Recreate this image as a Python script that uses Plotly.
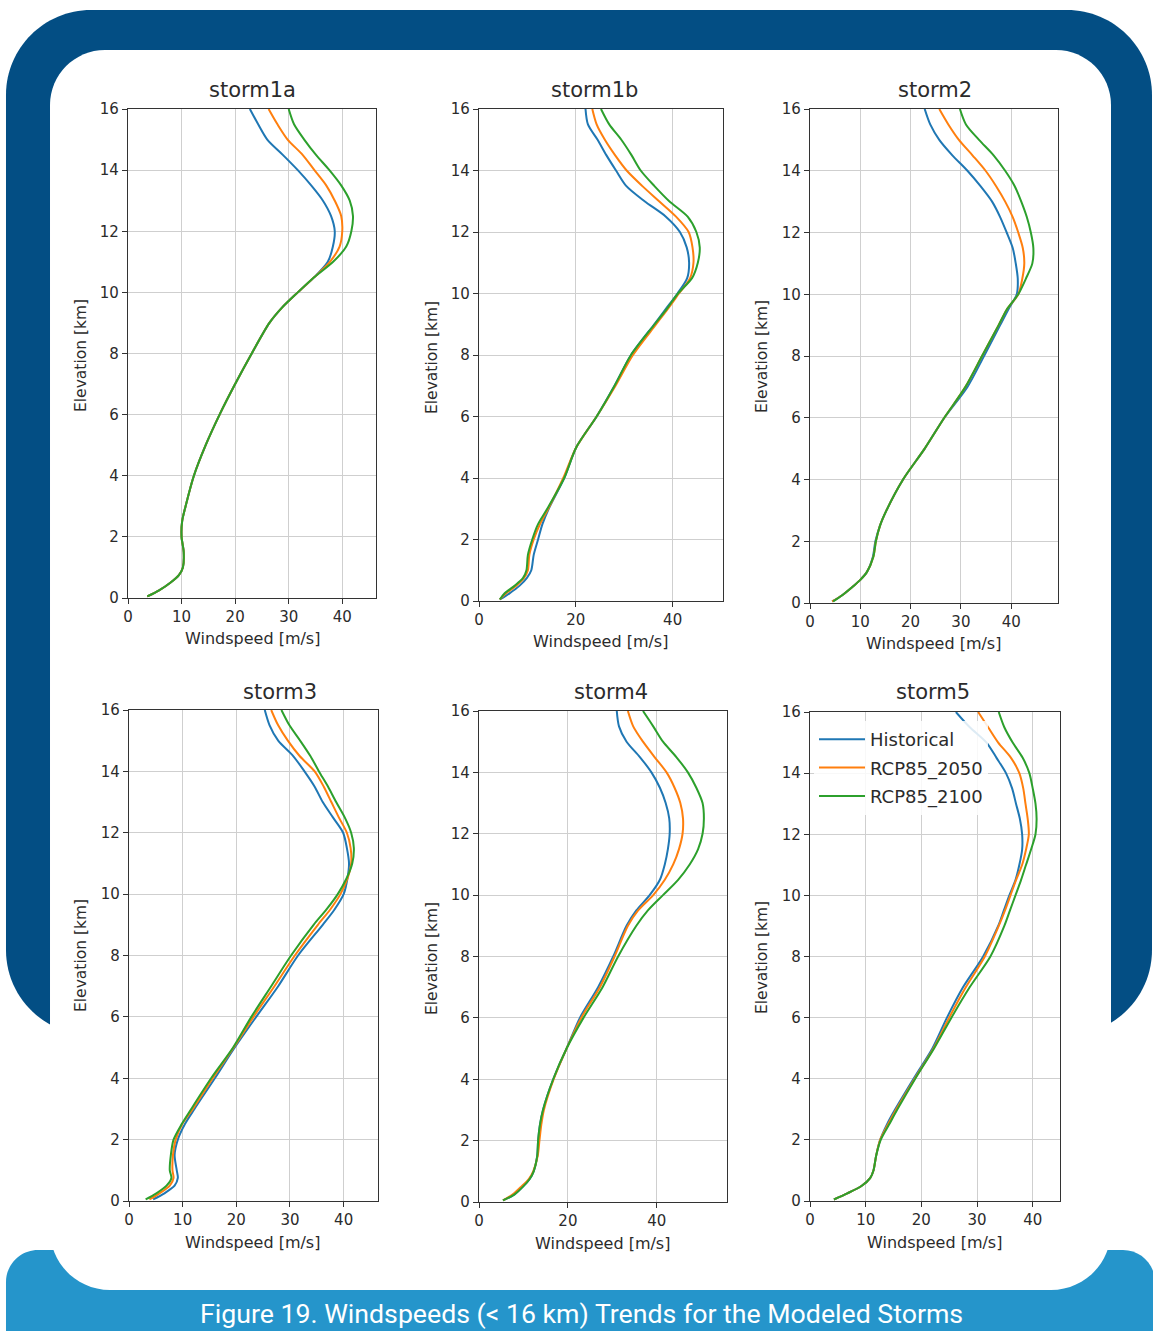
import plotly.graph_objects as go
from plotly.subplots import make_subplots

W, H = 1153, 1331

# ---- data -------------------------------------------------------------
ELEVATION_KM = [0.05, 0.25, 0.5, 0.75, 1.0, 1.5, 2.0, 2.5, 3.0, 4.0, 5.0, 6.0, 7.0, 8.0,
                9.0, 9.5, 10.0, 10.5, 11.0, 11.5, 12.0, 12.5, 13.0, 13.5, 14.0, 14.5,
                15.0, 15.5, 16.0]

storm1a_historical = [3.6, 5.8, 7.9, 9.5, 10.25, 10.4, 10.0, 10.1, 10.75, 12.3, 14.5, 17.1, 20.0, 23.1,
                      26.4, 28.75, 31.7, 34.8, 37.3, 38.25, 38.6, 37.9, 36.4, 34.2, 31.7, 28.9,
                      26.0, 24.3, 22.75]
storm1a_rcp85_2050 = [3.6, 5.8, 7.9, 9.5, 10.25, 10.4, 10.0, 10.1, 10.75, 12.3, 14.5, 17.1, 20.0, 23.1,
                      26.4, 28.75, 31.7, 34.8, 37.7, 39.5, 40.0, 39.8, 38.6, 37.0, 34.8, 32.6,
                      29.8, 27.9, 26.25]
storm1a_rcp85_2100 = [3.6, 5.8, 7.9, 9.5, 10.25, 10.4, 10.0, 10.1, 10.75, 12.3, 14.5, 17.1, 20.0, 23.1,
                      26.4, 28.75, 31.7, 34.8, 38.3, 40.75, 41.7, 42.0, 41.4, 39.8, 37.6, 35.1,
                      32.9, 31.0, 30.0]

storm1b_historical = [4.3, 6.3, 8.4, 9.9, 10.8, 11.3, 12.2, 13.1, 14.4, 17.6, 20.1, 24.3, 28.0, 31.4,
                      36.2, 38.6, 41.0, 43.0, 43.4, 42.9, 41.5, 38.6, 34.2, 30.4, 28.3, 26.3,
                      24.5, 22.5, 22.0]
storm1b_rcp85_2050 = [4.3, 5.6, 7.7, 9.3, 10.1, 10.4, 11.3, 12.6, 14.3, 17.4, 20.1, 24.3, 28.2, 31.8,
                      36.6, 39.0, 41.3, 43.6, 44.3, 44.1, 43.3, 40.7, 37.2, 33.7, 30.5, 28.1,
                      26.0, 24.3, 23.4]
storm1b_rcp85_2100 = [4.3, 5.3, 7.4, 9.1, 9.8, 10.1, 11.0, 12.2, 14.1, 17.6, 20.1, 24.3, 28.0, 31.4,
                      36.3, 38.8, 41.1, 44.0, 45.2, 45.6, 44.9, 43.1, 39.3, 36.2, 33.4, 31.5,
                      29.4, 26.9, 25.2]

storm2_historical = [4.4, 6.4, 8.3, 10.0, 11.3, 12.5, 13.0, 13.9, 15.2, 18.5, 22.8, 26.7, 31.3, 34.6,
                     37.8, 39.4, 41.1, 41.3, 40.9, 40.3, 39.1, 37.8, 36.2, 33.9, 31.3, 28.3,
                     25.7, 23.9, 22.8]
storm2_rcp85_2050 = [4.4, 6.4, 8.3, 10.0, 11.3, 12.6, 13.1, 13.9, 15.2, 18.5, 22.8, 26.7, 30.9, 34.2,
                     37.5, 39.1, 41.4, 42.2, 42.6, 42.3, 41.4, 40.3, 38.8, 37.0, 34.9, 32.3,
                     29.6, 27.5, 25.7]
storm2_rcp85_2100 = [4.6, 6.4, 8.3, 10.0, 11.3, 12.6, 13.1, 13.9, 15.2, 18.5, 22.8, 26.7, 30.9, 34.2,
                     37.5, 39.1, 41.4, 42.9, 44.2, 44.4, 43.9, 43.1, 42.0, 40.7, 38.8, 36.5,
                     33.6, 31.0, 29.8]

storm3_historical = [4.5, 6.6, 8.5, 9.1, 8.9, 8.5, 9.1, 10.4, 12.2, 16.0, 19.7, 23.7, 27.8, 31.5,
                     36.1, 38.3, 40.0, 40.7, 41.0, 40.6, 39.9, 38.0, 36.1, 34.6, 32.7, 30.6,
                     27.8, 26.2, 25.3]
storm3_rcp85_2050 = [3.8, 5.7, 7.6, 8.3, 8.1, 8.2, 8.7, 9.9, 11.9, 15.6, 19.5, 23.2, 27.1, 30.9,
                     35.2, 37.5, 39.4, 40.7, 41.4, 41.3, 40.6, 39.1, 37.7, 36.3, 34.6, 31.8,
                     29.6, 27.8, 26.5]
storm3_rcp85_2100 = [3.1, 5.1, 7.0, 7.9, 7.6, 7.8, 8.3, 9.8, 11.6, 15.3, 19.4, 22.8, 26.5, 30.2,
                     34.4, 36.8, 38.9, 40.5, 41.6, 41.9, 41.4, 40.2, 38.6, 37.1, 35.4, 33.8,
                     31.9, 29.9, 28.4]

storm4_historical = [5.4, 8.0, 9.9, 11.4, 12.3, 13.1, 13.3, 13.7, 14.4, 16.7, 19.7, 22.7, 26.8, 30.2,
                     33.2, 35.4, 38.4, 40.7, 41.8, 42.5, 42.9, 42.8, 42.0, 40.7, 38.8, 36.2,
                     33.2, 31.5, 31.0]
storm4_rcp85_2050 = [5.4, 7.6, 9.5, 11.2, 12.2, 13.2, 13.6, 14.0, 14.6, 16.8, 19.7, 23.0, 27.2, 30.5,
                     33.5, 35.8, 39.2, 41.8, 43.7, 45.0, 45.8, 45.9, 45.3, 44.0, 42.2, 39.5,
                     36.9, 34.7, 33.5]
storm4_rcp85_2100 = [5.4, 8.0, 9.9, 11.4, 12.3, 13.1, 13.3, 13.7, 14.4, 16.7, 19.7, 23.5, 27.8, 31.3,
                     35.4, 38.0, 41.4, 44.8, 47.4, 49.3, 50.3, 50.6, 50.3, 48.9, 47.0, 44.4,
                     41.4, 39.2, 36.9]

storm5_historical = [4.3, 6.7, 9.3, 10.8, 11.4, 11.9, 12.6, 13.8, 15.3, 18.6, 22.0, 24.6, 27.5, 31.1,
                     33.8, 34.8, 35.8, 36.9, 37.6, 38.1, 38.1, 37.7, 37.0, 36.3, 35.2, 33.5,
                     31.7, 28.7, 26.2]
storm5_rcp85_2050 = [4.3, 6.7, 9.3, 10.8, 11.4, 11.9, 12.6, 14.0, 15.5, 18.8, 22.2, 25.0, 28.0, 31.4,
                     33.9, 35.0, 36.0, 37.0, 38.1, 38.8, 39.3, 39.1, 38.7, 38.3, 37.6, 36.1,
                     33.8, 32.0, 30.2]
storm5_rcp85_2100 = [4.3, 6.7, 9.3, 10.8, 11.4, 11.9, 12.7, 14.2, 15.7, 18.9, 22.3, 25.4, 28.7, 32.4,
                     34.9, 35.9, 36.9, 37.9, 38.8, 39.7, 40.5, 40.7, 40.5, 40.0, 39.4, 38.2,
                     36.4, 34.9, 33.9]

STORM_NAMES = ["storm1a", "storm1b", "storm2", "storm3", "storm4", "storm5"]
SERIES_NAMES = ["Historical", "RCP85_2050", "RCP85_2100"]
STORM_SERIES = [
    (storm1a_historical, storm1a_rcp85_2050, storm1a_rcp85_2100),
    (storm1b_historical, storm1b_rcp85_2050, storm1b_rcp85_2100),
    (storm2_historical, storm2_rcp85_2050, storm2_rcp85_2100),
    (storm3_historical, storm3_rcp85_2050, storm3_rcp85_2100),
    (storm4_historical, storm4_rcp85_2050, storm4_rcp85_2100),
    (storm5_historical, storm5_rcp85_2050, storm5_rcp85_2100),
]
X_MAX = [46.3, 50.4, 49.3, 46.4, 55.8, 44.9]
X_DTICK = [10, 20, 10, 10, 20, 10]
Y_TICKS = [0, 2, 4, 6, 8, 10, 12, 14, 16]

# ---- styling ----------------------------------------------------------
LINE_COLORS = ["#1f77b4", "#ff7f0e", "#2ca02c"]
DARK_BLUE = "#034e84"
LIGHT_BLUE = "#2595cb"
TEXT = "#2b2b2b"
FONT = "DejaVu Sans"

# plot boxes in pixels: left, top, right, bottom
PANELS = [
    (128, 109, 376, 598),
    (479, 109, 723, 601),
    (810, 109, 1058, 603),
    (129, 710, 378, 1201),
    (479, 711, 727, 1202),
    (810, 712, 1060, 1201),
]
TITLE_POS = [(253, 90), (594, 90), (935, 90), (280, 692), (611, 692), (933, 692)]
YTITLE_POS = [(81, 356), (432, 357), (762, 357), (81, 956), (432, 958), (762, 958)]
XTITLE_POS = [(252, 638), (600, 642), (933, 643), (253, 1242), (602, 1243), (934, 1242)]


def px(x):
    return x / W


def py(y):
    return 1 - y / H


def rounded_path(x0, y0, x1, y1, r_top, r_bot):
    k = 0.5523
    kt, kb = r_top * k, r_bot * k
    pts = [
        ("M", [(x0 + r_top, y0)]),
        ("L", [(x1 - r_top, y0)]),
        ("C", [(x1 - r_top + kt, y0), (x1, y0 + r_top - kt), (x1, y0 + r_top)]),
        ("L", [(x1, y1 - r_bot)]),
        ("C", [(x1, y1 - r_bot + kb), (x1 - r_bot + kb, y1), (x1 - r_bot, y1)]),
        ("L", [(x0 + r_bot, y1)]),
        ("C", [(x0 + r_bot - kb, y1), (x0, y1 - r_bot + kb), (x0, y1 - r_bot)]),
        ("L", [(x0, y0 + r_top)]),
        ("C", [(x0, y0 + r_top - kt), (x0 + r_top - kt, y0), (x0 + r_top, y0)]),
    ]
    out = []
    for cmd, coords in pts:
        out.append(cmd + " ".join(f"{px(a):.5f},{py(b):.5f}" for a, b in coords))
    return " ".join(out) + " Z"


fig = make_subplots(rows=2, cols=3)

for i, (name, series) in enumerate(zip(STORM_NAMES, STORM_SERIES)):
    row, col = i // 3 + 1, i % 3 + 1
    for j, (sname, vals) in enumerate(zip(SERIES_NAMES, series)):
        fig.add_trace(
            go.Scatter(
                x=vals, y=ELEVATION_KM, mode="lines", name=sname,
                line=dict(color=LINE_COLORS[j], width=2, shape="spline", smoothing=0.8),
                legendgroup=sname, showlegend=(i == 5),
                cliponaxis=True,
            ),
            row=row, col=col,
        )

    left, top, right, bottom = PANELS[i]
    ax = "" if i == 0 else str(i + 1)
    common = dict(
        showline=True, mirror=True, linecolor="#333333", linewidth=1.2,
        ticks="outside", ticklen=5, tickwidth=1, tickcolor="#333333",
        showgrid=True, gridcolor="#cfcfcf", gridwidth=1, zeroline=False,
        automargin=False,
        tickfont=dict(family=FONT, size=15, color=TEXT),
    )
    fig.layout["xaxis" + ax].update(
        domain=[px(left), px(right)], range=[0, X_MAX[i]],
        tick0=0, dtick=X_DTICK[i], **common,
    )
    fig.layout["yaxis" + ax].update(
        domain=[py(bottom), py(top)], range=[0, 16],
        tickvals=Y_TICKS, **common,
    )

annotations = []
for i, name in enumerate(STORM_NAMES):
    tx, ty = TITLE_POS[i]
    annotations.append(dict(x=px(tx), y=py(ty), text=name, showarrow=False,
                            xref="paper", yref="paper", xanchor="center", yanchor="middle",
                            font=dict(family=FONT, size=21, color=TEXT)))
    yx, yy = YTITLE_POS[i]
    annotations.append(dict(x=px(yx), y=py(yy), text="Elevation [km]", showarrow=False,
                            textangle=-90, xref="paper", yref="paper",
                            xanchor="center", yanchor="middle",
                            font=dict(family=FONT, size=15.5, color=TEXT)))
    xx, xy = XTITLE_POS[i]
    annotations.append(dict(x=px(xx), y=py(xy), text="Windspeed [m/s]", showarrow=False,
                            xref="paper", yref="paper", xanchor="center", yanchor="middle",
                            font=dict(family=FONT, size=16, color=TEXT)))

annotations.append(dict(x=px(581), y=py(1314),
                        text="Figure 19. Windspeeds (< 16 km) Trends for the Modeled Storms",
                        showarrow=False, xref="paper", yref="paper",
                        xanchor="center", yanchor="middle",
                        font=dict(family="Roboto", size=26.7, color="white")))

shapes = [
    dict(type="path", path=rounded_path(6, 10, 1152, 1035, 85, 85),
         xref="paper", yref="paper", fillcolor=DARK_BLUE, line=dict(width=0), layer="below"),
    dict(type="path", path=rounded_path(6, 1250, 1155, 1400, 32, 32),
         xref="paper", yref="paper", fillcolor=LIGHT_BLUE, line=dict(width=0), layer="below"),
    dict(type="path", path=rounded_path(50, 50, 1111, 1290, 55, 60),
         xref="paper", yref="paper", fillcolor="white", line=dict(width=0), layer="below"),
]

fig.update_layout(
    width=W, height=H,
    margin=dict(l=0, r=0, t=0, b=0, autoexpand=False),
    paper_bgcolor="white",
    plot_bgcolor="rgba(0,0,0,0)",
    annotations=annotations,
    shapes=shapes,
    showlegend=True,
    legend=dict(
        x=px(814), y=py(721), xanchor="left", yanchor="top",
        bgcolor="rgba(255,255,255,0.85)", borderwidth=0,
        font=dict(family=FONT, size=18, color=TEXT),
        itemwidth=46, tracegroupgap=2,
    ),
)

# the page body keeps no default margin so the figure fills the window exactly
fig.write_html(
    "out.html",
    post_script="document.body.style.margin='0';document.body.style.overflow='hidden';",
)
